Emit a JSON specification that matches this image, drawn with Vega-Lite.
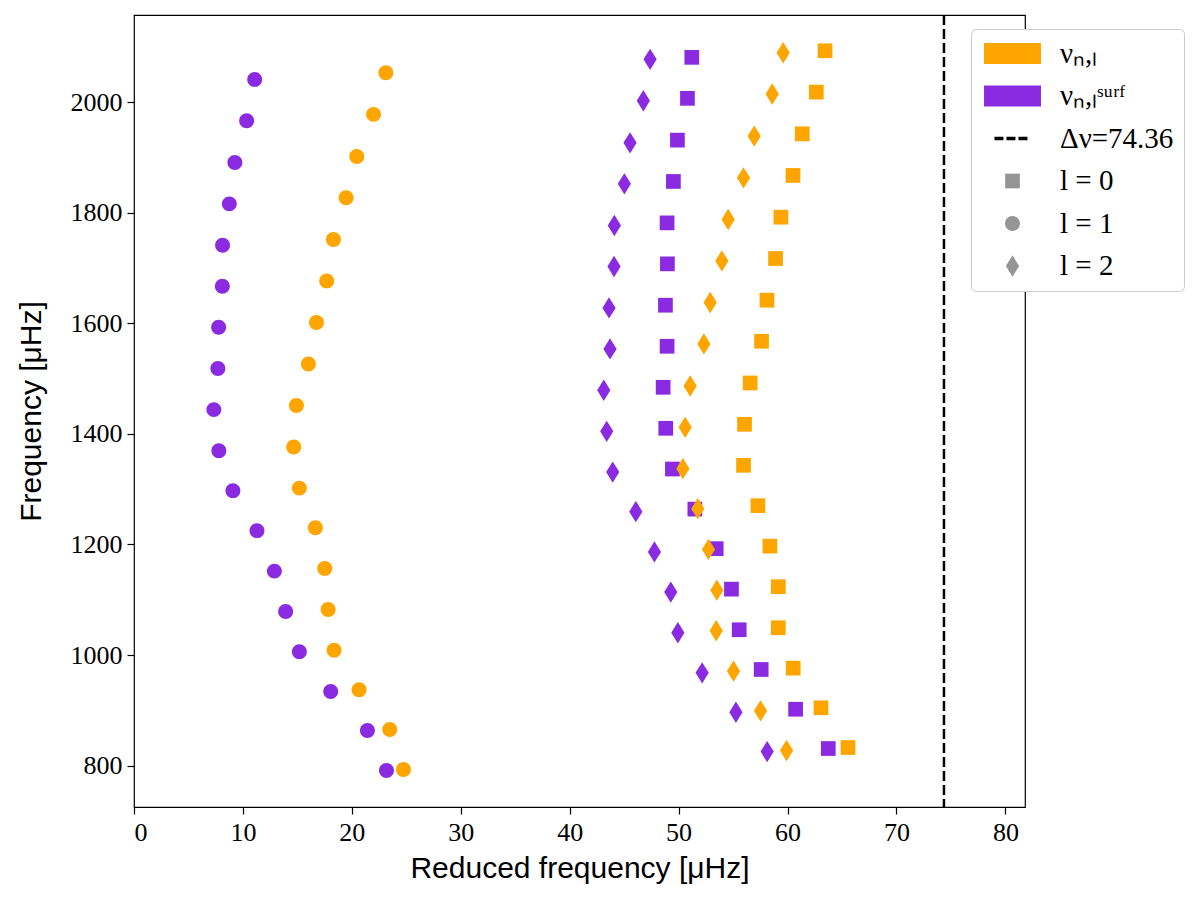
{
  "$schema": "https://vega.github.io/schema/vega-lite/v6.json",
  "width": 891,
  "height": 792,
  "autosize": "none",
  "padding": {"left": 134, "top": 15, "right": 175, "bottom": 91},
  "background": "white",
  "datasets": {
    "modes": [
      {"series": "surf", "l": 0, "x": 51.21, "y": 2081.4},
      {"series": "surf", "l": 0, "x": 50.81, "y": 2007.2},
      {"series": "surf", "l": 0, "x": 49.89, "y": 1931.6},
      {"series": "surf", "l": 0, "x": 49.52, "y": 1856.8},
      {"series": "surf", "l": 0, "x": 48.94, "y": 1781.9},
      {"series": "surf", "l": 0, "x": 48.97, "y": 1707.7},
      {"series": "surf", "l": 0, "x": 48.79, "y": 1632.9},
      {"series": "surf", "l": 0, "x": 48.94, "y": 1558.6},
      {"series": "surf", "l": 0, "x": 48.58, "y": 1484.4},
      {"series": "surf", "l": 0, "x": 48.82, "y": 1410.2},
      {"series": "surf", "l": 0, "x": 49.43, "y": 1336.5},
      {"series": "surf", "l": 0, "x": 51.49, "y": 1264.0},
      {"series": "surf", "l": 0, "x": 53.45, "y": 1192.4},
      {"series": "surf", "l": 0, "x": 54.85, "y": 1119.2},
      {"series": "surf", "l": 0, "x": 55.56, "y": 1045.7},
      {"series": "surf", "l": 0, "x": 57.58, "y": 973.8},
      {"series": "surf", "l": 0, "x": 60.74, "y": 901.9},
      {"series": "surf", "l": 0, "x": 63.74, "y": 830.8},
      {"series": "surf", "l": 1, "x": 11.08, "y": 2041.5},
      {"series": "surf", "l": 1, "x": 10.34, "y": 1966.6},
      {"series": "surf", "l": 1, "x": 9.26, "y": 1891.2},
      {"series": "surf", "l": 1, "x": 8.75, "y": 1816.3},
      {"series": "surf", "l": 1, "x": 8.13, "y": 1741.5},
      {"series": "surf", "l": 1, "x": 8.11, "y": 1667.3},
      {"series": "surf", "l": 1, "x": 7.77, "y": 1593.0},
      {"series": "surf", "l": 1, "x": 7.70, "y": 1518.3},
      {"series": "surf", "l": 1, "x": 7.33, "y": 1444.0},
      {"series": "surf", "l": 1, "x": 7.79, "y": 1369.8},
      {"series": "surf", "l": 1, "x": 9.08, "y": 1297.4},
      {"series": "surf", "l": 1, "x": 11.29, "y": 1225.0},
      {"series": "surf", "l": 1, "x": 12.89, "y": 1151.8},
      {"series": "surf", "l": 1, "x": 13.92, "y": 1078.8},
      {"series": "surf", "l": 1, "x": 15.18, "y": 1005.9},
      {"series": "surf", "l": 1, "x": 18.06, "y": 934.0},
      {"series": "surf", "l": 1, "x": 21.43, "y": 863.4},
      {"series": "surf", "l": 1, "x": 23.18, "y": 791.0},
      {"series": "surf", "l": 2, "x": 47.38, "y": 2077.8},
      {"series": "surf", "l": 2, "x": 46.76, "y": 2002.8},
      {"series": "surf", "l": 2, "x": 45.54, "y": 1926.7},
      {"series": "surf", "l": 2, "x": 45.02, "y": 1852.5},
      {"series": "surf", "l": 2, "x": 44.10, "y": 1777.2},
      {"series": "surf", "l": 2, "x": 44.07, "y": 1703.0},
      {"series": "surf", "l": 2, "x": 43.61, "y": 1628.0},
      {"series": "surf", "l": 2, "x": 43.70, "y": 1553.8},
      {"series": "surf", "l": 2, "x": 43.13, "y": 1479.0},
      {"series": "surf", "l": 2, "x": 43.40, "y": 1404.7},
      {"series": "surf", "l": 2, "x": 43.95, "y": 1331.0},
      {"series": "surf", "l": 2, "x": 46.07, "y": 1259.4},
      {"series": "surf", "l": 2, "x": 47.78, "y": 1186.6},
      {"series": "surf", "l": 2, "x": 49.28, "y": 1113.8},
      {"series": "surf", "l": 2, "x": 49.93, "y": 1040.3},
      {"series": "surf", "l": 2, "x": 52.16, "y": 967.8},
      {"series": "surf", "l": 2, "x": 55.26, "y": 896.5},
      {"series": "surf", "l": 2, "x": 58.13, "y": 825.3},
      {"series": "nu", "l": 0, "x": 63.44, "y": 2093.3},
      {"series": "nu", "l": 0, "x": 62.64, "y": 2018.5},
      {"series": "nu", "l": 0, "x": 61.35, "y": 1943.0},
      {"series": "nu", "l": 0, "x": 60.50, "y": 1867.7},
      {"series": "nu", "l": 0, "x": 59.39, "y": 1792.2},
      {"series": "nu", "l": 0, "x": 58.90, "y": 1717.4},
      {"series": "nu", "l": 0, "x": 58.11, "y": 1642.0},
      {"series": "nu", "l": 0, "x": 57.61, "y": 1567.7},
      {"series": "nu", "l": 0, "x": 56.57, "y": 1492.2},
      {"series": "nu", "l": 0, "x": 56.05, "y": 1417.4},
      {"series": "nu", "l": 0, "x": 55.96, "y": 1343.2},
      {"series": "nu", "l": 0, "x": 57.28, "y": 1270.2},
      {"series": "nu", "l": 0, "x": 58.38, "y": 1197.0},
      {"series": "nu", "l": 0, "x": 59.15, "y": 1123.6},
      {"series": "nu", "l": 0, "x": 59.15, "y": 1049.3},
      {"series": "nu", "l": 0, "x": 60.52, "y": 976.2},
      {"series": "nu", "l": 0, "x": 63.07, "y": 904.5},
      {"series": "nu", "l": 0, "x": 65.55, "y": 832.6},
      {"series": "nu", "l": 1, "x": 23.12, "y": 2053.5},
      {"series": "nu", "l": 1, "x": 21.99, "y": 1978.2},
      {"series": "nu", "l": 1, "x": 20.45, "y": 1902.1},
      {"series": "nu", "l": 1, "x": 19.47, "y": 1827.2},
      {"series": "nu", "l": 1, "x": 18.31, "y": 1751.8},
      {"series": "nu", "l": 1, "x": 17.69, "y": 1676.9},
      {"series": "nu", "l": 1, "x": 16.75, "y": 1601.6},
      {"series": "nu", "l": 1, "x": 16.01, "y": 1526.6},
      {"series": "nu", "l": 1, "x": 14.91, "y": 1451.3},
      {"series": "nu", "l": 1, "x": 14.66, "y": 1376.3},
      {"series": "nu", "l": 1, "x": 15.18, "y": 1302.0},
      {"series": "nu", "l": 1, "x": 16.65, "y": 1230.4},
      {"series": "nu", "l": 1, "x": 17.51, "y": 1156.7},
      {"series": "nu", "l": 1, "x": 17.82, "y": 1082.5},
      {"series": "nu", "l": 1, "x": 18.37, "y": 1008.8},
      {"series": "nu", "l": 1, "x": 20.66, "y": 937.0},
      {"series": "nu", "l": 1, "x": 23.48, "y": 865.2},
      {"series": "nu", "l": 1, "x": 24.74, "y": 792.8},
      {"series": "nu", "l": 2, "x": 59.60, "y": 2089.7},
      {"series": "nu", "l": 2, "x": 58.59, "y": 2015.0},
      {"series": "nu", "l": 2, "x": 56.94, "y": 1938.9},
      {"series": "nu", "l": 2, "x": 55.96, "y": 1863.4},
      {"series": "nu", "l": 2, "x": 54.55, "y": 1788.0},
      {"series": "nu", "l": 2, "x": 53.97, "y": 1713.0},
      {"series": "nu", "l": 2, "x": 52.90, "y": 1637.8},
      {"series": "nu", "l": 2, "x": 52.32, "y": 1562.8},
      {"series": "nu", "l": 2, "x": 51.06, "y": 1486.8},
      {"series": "nu", "l": 2, "x": 50.60, "y": 1412.0},
      {"series": "nu", "l": 2, "x": 50.39, "y": 1337.2},
      {"series": "nu", "l": 2, "x": 51.76, "y": 1264.8},
      {"series": "nu", "l": 2, "x": 52.74, "y": 1191.1},
      {"series": "nu", "l": 2, "x": 53.51, "y": 1117.4},
      {"series": "nu", "l": 2, "x": 53.45, "y": 1043.9},
      {"series": "nu", "l": 2, "x": 55.04, "y": 970.7},
      {"series": "nu", "l": 2, "x": 57.52, "y": 899.0},
      {"series": "nu", "l": 2, "x": 59.91, "y": 827.2}
    ],
    "dnu": [
      {"x": 74.36}
    ]
  },
  "encoding": {
    "x": {
      "field": "x",
      "type": "quantitative",
      "scale": {"domain": [0, 81.8], "nice": false, "zero": false},
      "axis": {
        "title": "Reduced frequency [μHz]",
        "values": [0, 10, 20, 30, 40, 50, 60, 70, 80],
        "titlePadding": 8
      }
    }
  },
  "layer": [
    {
      "data": {"name": "modes"},
      "mark": {"type": "point", "filled": true, "opacity": 1, "strokeWidth": 0, "size": 455},
      "encoding": {
        "y": {
          "field": "y",
          "type": "quantitative",
          "scale": {"domain": [725, 2158], "nice": false, "zero": false},
          "axis": {
            "title": "Frequency [μHz]",
            "values": [800, 1000, 1200, 1400, 1600, 1800, 2000],
            "format": "d",
            "titlePadding": 24
          }
        },
        "color": {
          "field": "series",
          "type": "nominal",
          "scale": {
            "domain": ["nu", "surf", "dnu", "l0", "l1", "l2"],
            "range": ["#ffa500", "#8a2be2", "#000000", "#959595", "#959595", "#959595"]
          },
          "legend": {
            "title": null,
            "orient": "none",
            "legendX": 837,
            "legendY": 14,
            "symbolType": "M-2.67,-0.98H2.67V0.98H-2.67Z",
            "symbolSize": 455,
            "symbolOffset": 17,
            "labelOffset": 33,
            "labelExpr": "datum.value === 'nu' ? 'νₙ,ₗ' : datum.value === 'surf' ? 'νₙ,ₗˢᵘʳᶠ' : datum.value === 'dnu' ? 'Δν=74.36' : datum.value === 'l0' ? 'l = 0' : datum.value === 'l1' ? 'l = 1' : 'l = 2'",
            "encoding": {
              "symbols": {
                "shape": {"value": {"expr": "datum.value === 'dnu' ? 'stroke' : datum.value === 'l0' ? 'M-0.69,-0.69H0.69V0.69H-0.69Z' : datum.value === 'l1' ? 'M-0.7,0A0.7,0.7,0,1,0,0.7,0A0.7,0.7,0,1,0,-0.7,0Z' : datum.value === 'l2' ? 'M0,-1L0.62,0L0,1L-0.62,0Z' : 'M-2.67,-0.98H2.67V0.98H-2.67Z'"}},
                "size": {"value": {"expr": "datum.value === 'dnu' ? 1300 : 455"}},
                "stroke": {"value": {"expr": "datum.value === 'dnu' ? 'black' : 'transparent'"}},
                "strokeWidth": {"value": {"expr": "datum.value === 'dnu' ? 3.5 : 0"}},
                "strokeDash": {"value": {"expr": "datum.value === 'dnu' ? [9, 3] : [1, 0]"}}
              }
            }
          }
        },
        "shape": {
          "field": "l",
          "type": "nominal",
          "scale": {
            "domain": [0, 1, 2],
            "range": [
              "M-0.69,-0.69H0.69V0.69H-0.69Z",
              "M-0.7,0A0.7,0.7,0,1,0,0.7,0A0.7,0.7,0,1,0,-0.7,0Z",
              "M0,-1L0.62,0L0,1L-0.62,0Z"
            ]
          },
          "legend": null
        }
      }
    },
    {
      "data": {"name": "dnu"},
      "mark": {"type": "rule", "color": "black", "strokeWidth": 2.5, "strokeDash": [10, 4]},
      "encoding": {}
    }
  ],
  "config": {
    "view": {"stroke": "black", "strokeWidth": 1.2},
    "axis": {
      "domain": false,
      "grid": false,
      "tickColor": "black",
      "tickSize": 7,
      "tickWidth": 1.2,
      "labelFont": "Liberation Serif",
      "labelFontSize": 26,
      "labelColor": "black",
      "labelPadding": 5,
      "titleFont": "Liberation Sans",
      "titleFontSize": 30,
      "titleFontWeight": "normal",
      "titleColor": "black"
    },
    "legend": {
      "padding": 10,
      "fillColor": "white",
      "strokeColor": "#cccccc",
      "cornerRadius": 5,
      "labelFont": "Liberation Serif",
      "labelFontSize": 29,
      "labelColor": "black",
      "rowPadding": 12.5,
      "symbolOpacity": 1
    }
  }
}
